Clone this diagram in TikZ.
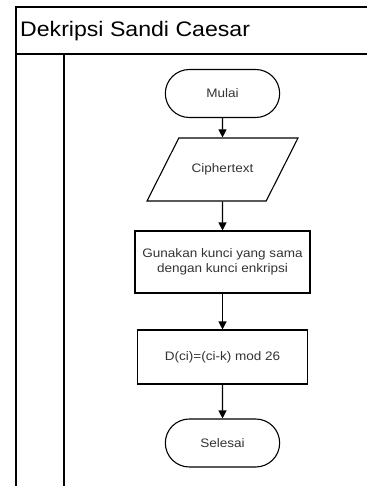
\documentclass[tikz,border=0pt]{standalone}
\usepackage{fontspec}
\setmainfont{Liberation Sans}[FakeStretch=1.1]
\usetikzlibrary{shapes.geometric,shapes.misc,arrows.meta}

\begin{document}
\begin{tikzpicture}[
    x=1pt, y=-1pt,
    terminal/.style={
        rounded rectangle,
        draw=black,
        line width=1.1pt,
        minimum width=121pt,
        minimum height=48pt,
        font=\fontsize{12.3}{14}\selectfont,
        text=black!80
    },
    datainput/.style={
        trapezium,
        trapezium left angle=63,
        trapezium right angle=117,
        trapezium stretches body=true,
        draw=black,
        line width=1.1pt,
        inner ysep=25.5pt,
        minimum width=151pt,
        minimum height=63pt,
        font=\fontsize{12.3}{14}\selectfont,
        text=black!80
    },
    process/.style={
        rectangle,
        draw=black,
        line width=1.1pt,
        align=center,
        font=\fontsize{12.3}{15.5}\selectfont,
        text=black!80
    },
    connection/.style={
        -{Triangle[length=8pt,width=8pt]},
        black,
        line width=1.1pt
    }
]
\useasboundingbox (0,0) rectangle (367,486);

%% --- Bingkai swimlane ---
\draw[line width=1.4pt] (367,7) -- (16,7) -- (16,486);
\draw[line width=2pt] (16,54) -- (367,54);
\draw[line width=1.4pt] (64,54) -- (64,486);
\node[anchor=west, font=\fontsize{21}{24}\selectfont, inner sep=0pt] (title) at (20,31) {Dekripsi Sandi Caesar};

%% --- Simbol flowchart ---
\node[terminal] (S1) at (222.5,93.5) {Mulai};
\node[datainput] (S2) at (222.5,169.5) {Ciphertext};
\node[process, minimum width=175pt, minimum height=62pt] (S3) at (222.5,262)
    {Gunakan kunci yang sama\\dengan kunci enkripsi};
\node[process, minimum width=170pt, minimum height=54pt] (S4) at (222.5,357) {D(ci)=(ci-k) mod 26};
\node[terminal] (S5) at (222.5,443) {Selesai};

%% --- Panah alur ---
\foreach \src/\dst in {1/2,2/3,3/4,4/5} {
    \draw[connection] (S\src) -- (S\dst);
}

\end{tikzpicture}
\end{document}
